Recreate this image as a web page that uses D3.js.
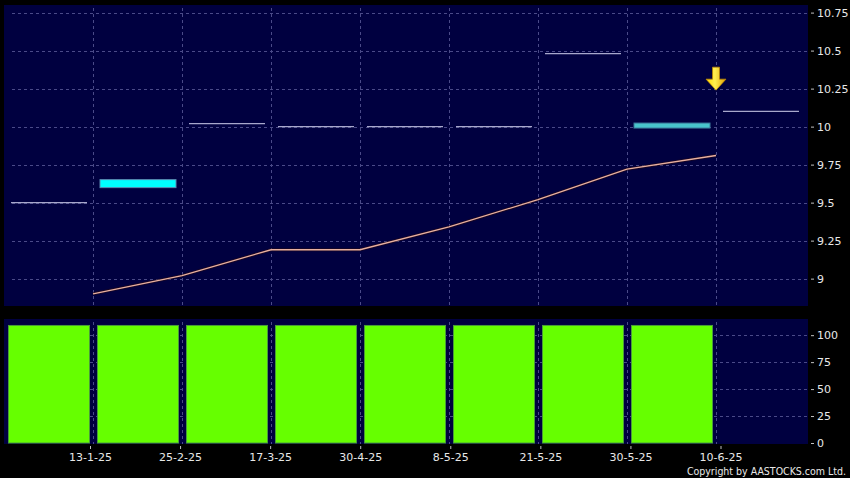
<!DOCTYPE html>
<html><head><meta charset="utf-8">
<script src="https://cdn.jsdelivr.net/npm/d3@7"></script>
<style>html,body{margin:0;padding:0;background:#000;}svg{display:block;}</style>
</head><body>
<svg id="c" width="850" height="478"></svg>
<script>
// ---- data ----
const dates = ["13-1-25","25-2-25","17-3-25","30-4-25","8-5-25","21-5-25","30-5-25","10-6-25"];
const slots = ["s0","s1","s2","s3","s4","s5","s6","s7","s8"];
const lineValues = [8.90, 9.02, 9.19, 9.19, 9.34, 9.52, 9.72, 9.81];
const segValues = [9.50, null, 10.02, 10.00, 10.00, 10.00, 10.48, null, 10.10];
const highlightValues = [null, 9.625, null, null, null, null, null, 10.007, null];
const volumeValues = [109, 109, 109, 109, 109, 109, 109, 109, null];
const priceTicks = [9, 9.25, 9.5, 9.75, 10, 10.25, 10.5, 10.75];
const volTicks = [0, 25, 50, 75, 100];
const arrowDate = "10-6-25";
const arrowValue = 10.24;

const svg = d3.select("#c");
const L = 4, R = 808;
const top1 = 5, bot1 = 306, top2 = 319, bot2 = 444;
const gridCol = "#4a4a88";
const panelCol = "#000040";

const xBand = d3.scaleBand().domain(slots).range([L, 805]);
const xDate = d3.scalePoint().domain(dates).range([xBand(slots[1]), xBand(slots[8])]);
const xLabel = d3.scalePoint().domain(dates).range([90, 720.5]);
const yP = d3.scaleLinear().domain([8.82, 10.80]).range([bot1, top1]);
const yV = d3.scaleLinear().domain([0, 115]).range([443, top2]);

// panels
svg.append("rect").attr("x", L).attr("y", top1).attr("width", R - L).attr("height", bot1 - top1).attr("fill", panelCol);
svg.append("rect").attr("x", L).attr("y", top2).attr("width", R - L).attr("height", bot2 - top2).attr("fill", panelCol);

// grids top
const g1 = svg.append("g");
g1.selectAll("line.h").data(priceTicks).join("line")
  .attr("x1", L + 8).attr("x2", R).attr("y1", d => Math.round(yP(d)) + 0.5).attr("y2", d => Math.round(yP(d)) + 0.5)
  .attr("stroke", gridCol).attr("stroke-dasharray", "3,3");
g1.selectAll("line.v").data(dates).join("line")
  .attr("x1", d => Math.round(xDate(d)) + 0.5).attr("x2", d => Math.round(xDate(d)) + 0.5)
  .attr("y1", top1 + 3).attr("y2", bot1)
  .attr("stroke", gridCol).attr("stroke-dasharray", "3,3");
// grids bottom
const g2 = svg.append("g");
g2.selectAll("line.h").data(volTicks.slice(1)).join("line")
  .attr("x1", L + 8).attr("x2", R).attr("y1", d => Math.round(yV(d)) + 0.5).attr("y2", d => Math.round(yV(d)) + 0.5)
  .attr("stroke", gridCol).attr("stroke-dasharray", "3,3");
g2.selectAll("line.v").data(dates).join("line")
  .attr("x1", d => Math.round(xDate(d)) + 0.5).attr("x2", d => Math.round(xDate(d)) + 0.5)
  .attr("y1", top2 + 3).attr("y2", bot2)
  .attr("stroke", gridCol).attr("stroke-dasharray", "3,3");

// horizontal segments
const segInset = 7;
svg.append("g").selectAll("line").data(slots.map((s, i) => ({s, v: segValues[i]})).filter(d => d.v != null)).join("line")
  .attr("x1", d => xBand(d.s) + segInset).attr("x2", d => xBand(d.s) + xBand.bandwidth() - segInset + 1)
  .attr("y1", d => yP(d.v)).attr("y2", d => yP(d.v))
  .attr("stroke", "#a8a8cc").attr("stroke-width", 1.2);

// highlight bars (cyan)
const hl = slots.map((s, i) => ({s, v: highlightValues[i], i})).filter(d => d.v != null);
svg.append("g").selectAll("rect").data(hl).join("rect")
  .attr("x", d => xBand(d.s) + segInset).attr("width", xBand.bandwidth() - 2 * segInset + 1)
  .attr("y", d => yP(d.v) - (d.i === 1 ? 4 : 2.5)).attr("height", d => d.i === 1 ? 8 : 5)
  .attr("fill", d => d.i === 1 ? "#00ffff" : "#48c4cc")
  .attr("stroke", d => d.i === 1 ? "#5a8ab0" : "#3a7a9a").attr("stroke-width", 1);

// price line
const line = d3.line().x((d, i) => xDate(dates[i])).y(d => yP(d));
svg.append("path").datum(lineValues).attr("d", line).attr("fill", "none")
  .attr("stroke", "#2a0a10").attr("stroke-width", 3).attr("opacity", 0.6);
svg.append("path").datum(lineValues).attr("d", line).attr("fill", "none")
  .attr("stroke", "#e8b0a0").attr("stroke-width", 1.3);

// arrow
const ax = xDate(arrowDate), ay = yP(arrowValue);
const defs = svg.append("defs");
const grad = defs.append("linearGradient").attr("id", "ag").attr("x1", 0).attr("x2", 1).attr("y1", 0).attr("y2", 0);
grad.append("stop").attr("offset", "0%").attr("stop-color", "#ffd700");
grad.append("stop").attr("offset", "45%").attr("stop-color", "#ffee50");
grad.append("stop").attr("offset", "100%").attr("stop-color", "#e0a000");
svg.append("path")
  .attr("d", `M${ax - 3.5},${ay - 23} L${ax + 3.5},${ay - 23} L${ax + 3.5},${ay - 11} L${ax + 10},${ay - 11} L${ax},${ay} L${ax - 10},${ay - 11} L${ax - 3.5},${ay - 11} Z`)
  .attr("fill", "url(#ag)").attr("stroke", "#c08800").attr("stroke-width", 0.7);

// volume bars
const vb = slots.map((s, i) => ({s, v: volumeValues[i]})).filter(d => d.v != null);
svg.append("g").selectAll("rect").data(vb).join("rect")
  .attr("x", d => xBand(d.s) + 4.5).attr("width", xBand.bandwidth() - 8)
  .attr("y", d => yV(d.v)).attr("height", d => yV(0) - yV(d.v))
  .attr("fill", "#66ff00").attr("stroke", "#4a9a3a").attr("stroke-width", 1);

// right axes
const font = "'DejaVu Sans', Verdana, sans-serif";
const ra1 = svg.append("g").attr("transform", `translate(${R + 3},0)`)
  .call(d3.axisRight(yP).tickValues(priceTicks).tickSize(3).tickPadding(3).tickFormat(d3.format("~g")));
const ra2 = svg.append("g").attr("transform", `translate(${R + 3},0)`)
  .call(d3.axisRight(yV).tickValues(volTicks).tickSize(3).tickPadding(3).tickFormat(d3.format("d")));
[ra1, ra2].forEach(a => {
  a.select(".domain").remove();
  a.selectAll(".tick line").attr("stroke", "#c0c0c0");
  a.selectAll("text").attr("fill", "#e8e8e8").style("font-family", font).style("font-size", "11px");
});

// bottom axis
const ba = svg.append("g").attr("transform", `translate(0,${bot2 + 2})`)
  .call(d3.axisBottom(xLabel).tickSize(3).tickPadding(4));
ba.select(".domain").remove();
ba.selectAll(".tick line").attr("stroke", "#c0c0c0");
ba.selectAll("text").attr("fill", "#e8e8e8").style("font-family", font).style("font-size", "11px");

// copyright
svg.append("text").attr("x", 846).attr("y", 475).attr("text-anchor", "end")
  .attr("fill", "#e8e8e8").style("font-family", "'DejaVu Sans Condensed', 'DejaVu Sans', sans-serif")
  .style("font-size", "10.5px").text("Copyright by AASTOCKS.com Ltd.");
</script>
</body></html>
